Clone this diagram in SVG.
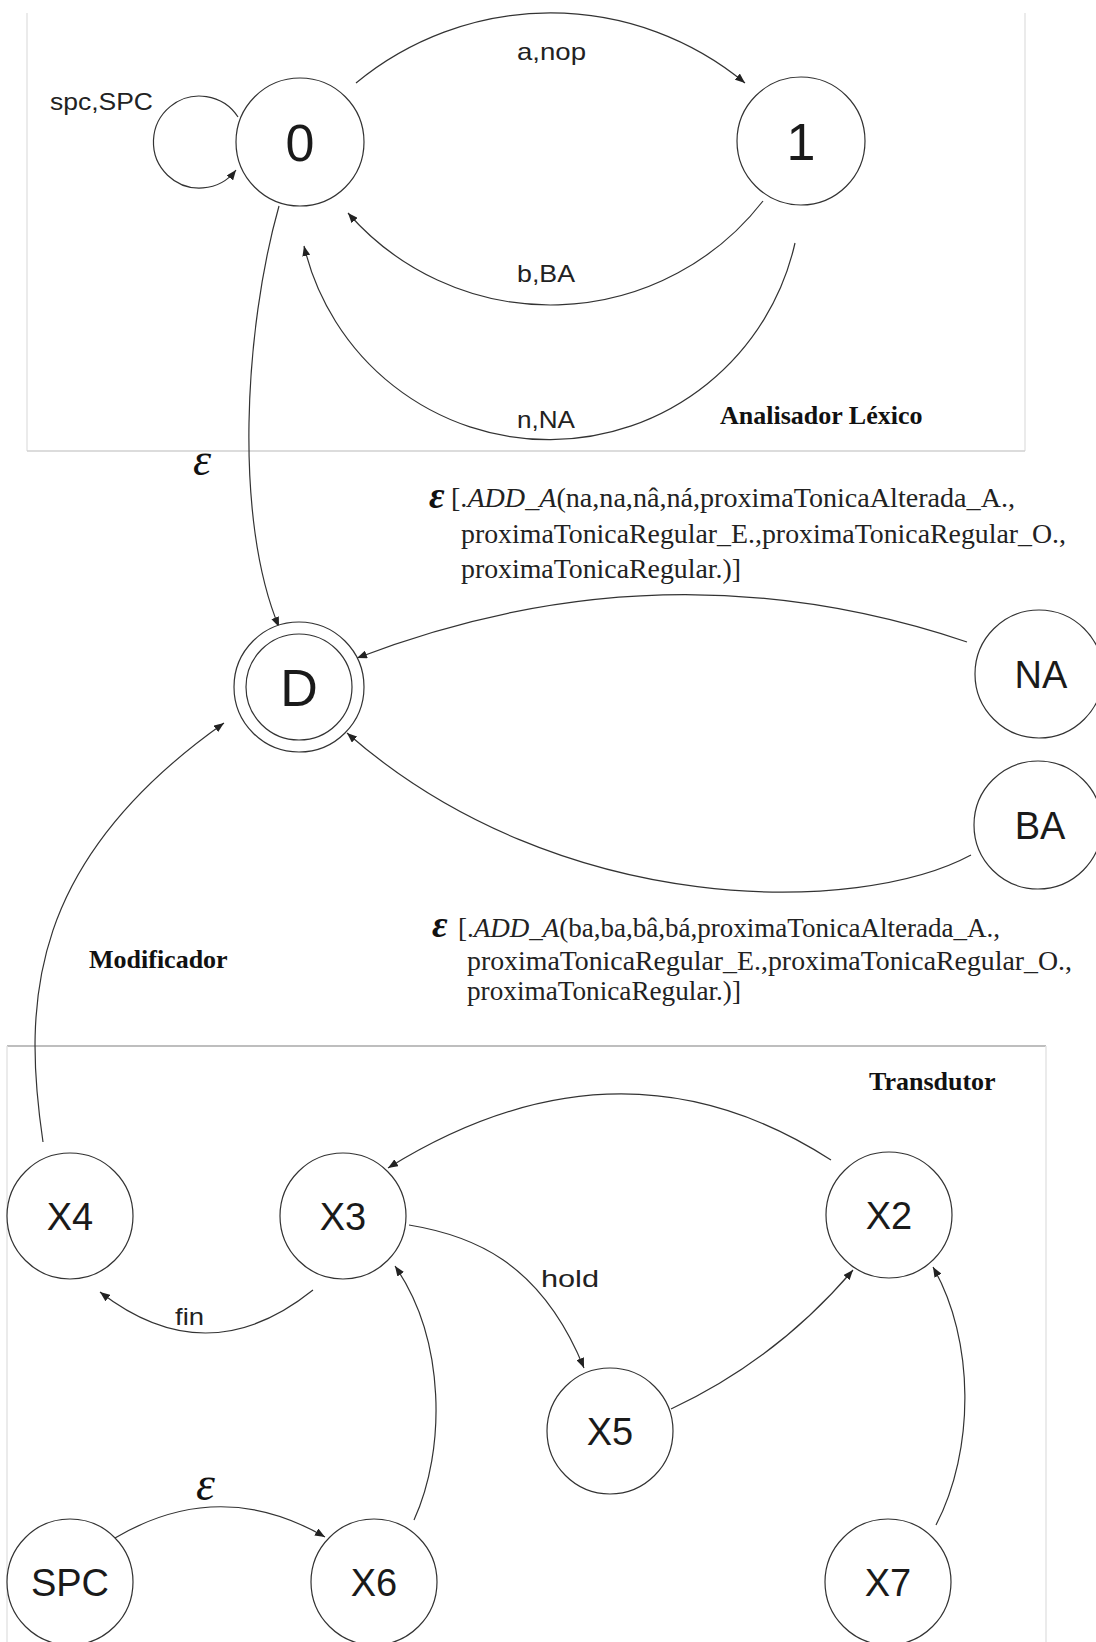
<svg xmlns="http://www.w3.org/2000/svg" width="1096" height="1642" viewBox="0 0 1096 1642">
<style>
.node{fill:#fff;stroke:#333;stroke-width:1.2}
.lbl{font-family:"Liberation Sans",Arial,sans-serif;fill:#1a1a1a;text-anchor:middle}
.big{font-size:52px}
.mid{font-size:38px}
.edge{fill:none;stroke:#333;stroke-width:1.2}
.el{font-family:"Liberation Sans",Arial,sans-serif;font-size:24px;fill:#222}
.sec{font-family:"Liberation Serif","Times New Roman",serif;font-weight:bold;font-size:26px;fill:#111}
.math{font-family:"Liberation Serif","Times New Roman",serif;font-size:27px;fill:#222}
.eps{font-family:"Liberation Serif","Times New Roman",serif;font-style:italic;fill:#111}
.faint{stroke:#e4e4e4;stroke-width:1.5;fill:none}
.rule{stroke:#a8a8a8;stroke-width:1.3;fill:none}
</style>
<defs>
<marker id="arr" markerUnits="userSpaceOnUse" markerWidth="10" markerHeight="8" refX="10" refY="4" orient="auto">
<path d="M0,0 L10,4 L0,8 z" fill="#222"/>
</marker>
</defs>
<rect width="1096" height="1642" fill="#fff"/>

<g id="frames">
<line class="faint" x1="27" y1="13" x2="27" y2="451"/>
<line class="faint" x1="1025" y1="13" x2="1025" y2="451"/>
<line class="rule" x1="27" y1="451" x2="1025" y2="451" style="stroke:#d0d0d0"/>
<line class="rule" x1="7" y1="1046" x2="1046" y2="1046"/>
<line class="faint" x1="7" y1="1046" x2="7" y2="1642"/>
<line class="faint" x1="1046" y1="1046" x2="1046" y2="1642"/>
</g>

<g id="connectors">
<path class="edge" d="M238 117 A46 46 0 1 0 236 170" marker-end="url(#arr)"/>
<path class="edge" d="M356 83 A305 305 0 0 1 745 83" marker-end="url(#arr)"/>
<path class="edge" d="M763 201 A269 269 0 0 1 348 213" marker-end="url(#arr)"/>
<path class="edge" d="M795 243 A252 252 0 0 1 304 246" marker-end="url(#arr)"/>
<path class="edge" d="M279 206 C244 330 234 520 279 627" marker-end="url(#arr)"/>
<path class="edge" d="M967 642 Q664 540 357 658" marker-end="url(#arr)"/>
<path class="edge" d="M971 855 C860 915 560 920 347 733" marker-end="url(#arr)"/>
<path class="edge" d="M43 1142 C22 1000 30 860 224 723" marker-end="url(#arr)"/>
<path class="edge" d="M831 1160 Q620 1024 388 1168" marker-end="url(#arr)"/>
<path class="edge" d="M313 1290 Q207 1375 100 1292" marker-end="url(#arr)"/>
<path class="edge" d="M409 1225 C470 1235 540 1260 584 1368" marker-end="url(#arr)"/>
<path class="edge" d="M671 1409 Q776 1360 853 1270" marker-end="url(#arr)"/>
<path class="edge" d="M414 1520 C446 1450 446 1340 395 1266" marker-end="url(#arr)"/>
<path class="edge" d="M936 1525 C975 1450 975 1340 933 1267" marker-end="url(#arr)"/>
<path class="edge" d="M115 1538 Q220 1476 325 1537" marker-end="url(#arr)"/>
</g>

<g id="edge-labels">
<text class="el" x="50" y="110" textLength="103" lengthAdjust="spacingAndGlyphs">spc,SPC</text>
<text class="el" x="517" y="60" textLength="69" lengthAdjust="spacingAndGlyphs">a,nop</text>
<text class="el" x="517" y="282" textLength="58" lengthAdjust="spacingAndGlyphs">b,BA</text>
<text class="el" x="517" y="428" textLength="58" lengthAdjust="spacingAndGlyphs">n,NA</text>
<text class="el" x="541" y="1287" textLength="58" lengthAdjust="spacingAndGlyphs">hold</text>
<text class="el" x="175" y="1325" textLength="29" lengthAdjust="spacingAndGlyphs">fin</text>
<text class="eps" x="193" y="475" font-size="46">ε</text>
<text class="eps" x="196" y="1500" font-size="48">ε</text>
<g id="label-na">
<text class="eps" x="429" y="508" font-size="38" font-weight="bold">ε</text>
<text class="math" x="451" y="507" textLength="564" lengthAdjust="spacingAndGlyphs">[.<tspan font-style="italic">ADD_A</tspan>(na,na,nâ,ná,proximaTonicaAlterada_A.,</text>
<text class="math" x="461" y="543" textLength="605" lengthAdjust="spacingAndGlyphs">proximaTonicaRegular_E.,proximaTonicaRegular_O.,</text>
<text class="math" x="461" y="578" textLength="280" lengthAdjust="spacingAndGlyphs">proximaTonicaRegular.)]</text>
</g>
<g id="label-ba">
<text class="eps" x="432" y="937" font-size="38" font-weight="bold">ε</text>
<text class="math" x="458" y="937" textLength="542" lengthAdjust="spacingAndGlyphs">[.<tspan font-style="italic">ADD_A</tspan>(ba,ba,bâ,bá,proximaTonicaAlterada_A.,</text>
<text class="math" x="467" y="970" textLength="605" lengthAdjust="spacingAndGlyphs">proximaTonicaRegular_E.,proximaTonicaRegular_O.,</text>
<text class="math" x="467" y="1000" textLength="274" lengthAdjust="spacingAndGlyphs">proximaTonicaRegular.)]</text>
</g>
</g>

<g id="section-labels">
<text class="sec" x="720" y="424">Analisador Léxico</text>
<text class="sec" x="89" y="968">Modificador</text>
<text class="sec" x="869" y="1090">Transdutor</text>
</g>

<g id="node-0"><circle class="node" cx="300" cy="142" r="64"/><text class="lbl big" x="300" y="161">0</text></g>
<g id="node-1"><circle class="node" cx="801" cy="141" r="64"/><text class="lbl big" x="801" y="160">1</text></g>
<g id="node-D"><circle class="node" cx="299" cy="687" r="65"/><circle class="node" cx="299" cy="687" r="53"/><text class="lbl big" x="299" y="706">D</text></g>
<g id="node-NA"><circle class="node" cx="1039" cy="674" r="64"/><text class="lbl mid" x="1041" y="688">NA</text></g>
<g id="node-BA"><circle class="node" cx="1038" cy="825" r="64"/><text class="lbl mid" x="1040" y="839">BA</text></g>
<g id="node-X4"><circle class="node" cx="70" cy="1216" r="63"/><text class="lbl mid" x="70" y="1230">X4</text></g>
<g id="node-X3"><circle class="node" cx="343" cy="1216" r="63"/><text class="lbl mid" x="343" y="1230">X3</text></g>
<g id="node-X2"><circle class="node" cx="889" cy="1215" r="63"/><text class="lbl mid" x="889" y="1229">X2</text></g>
<g id="node-X5"><circle class="node" cx="610" cy="1431" r="63"/><text class="lbl mid" x="610" y="1445">X5</text></g>
<g id="node-SPC"><circle class="node" cx="70" cy="1582" r="63"/><text class="lbl mid" x="70" y="1596">SPC</text></g>
<g id="node-X6"><circle class="node" cx="374" cy="1582" r="63"/><text class="lbl mid" x="374" y="1596">X6</text></g>
<g id="node-X7"><circle class="node" cx="888" cy="1582" r="63"/><text class="lbl mid" x="888" y="1596">X7</text></g>
</svg>
